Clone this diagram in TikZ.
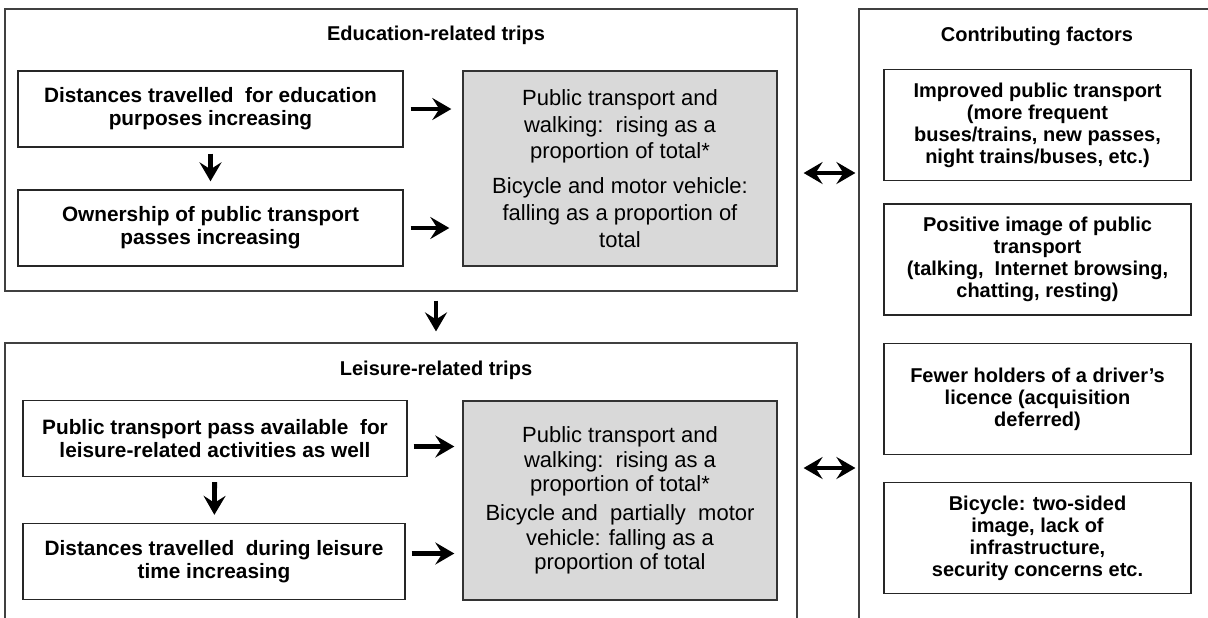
\documentclass[tikz,border=0pt]{standalone}
\usepackage{fontspec}
\setmainfont{Liberation Sans}
\usetikzlibrary{arrows.meta}

\tikzset{
  frame/.style={draw=black!75, line width=0.6pt, inner sep=0pt},
  heading/.style={font=\bfseries\fontsize{10}{12}\selectfont},
  causebox/.style={draw=black!85, line width=0.7pt, fill=white, align=center,
    font=\bfseries\fontsize{10.4}{11.6}\selectfont, minimum height=38pt},
  sharebox/.style={draw=black!80, line width=0.7pt, fill=black!15, align=center,
    minimum width=157pt},
  factorbox/.style={draw=black!85, line width=0.7pt, align=center,
    font=\bfseries\fontsize{10}{11}\selectfont, minimum width=153.5pt, minimum height=55.5pt},
  bigtip/.tip={Stealth[length=9.5pt,width=11pt,inset=3.5pt]},
  flow/.style={-bigtip, line width=2.4pt},
  link/.style={bigtip-bigtip, line width=2pt}
}

\begin{document}
\begin{tikzpicture}[x=0.5pt, y=-0.5pt]
  \useasboundingbox (0,0) rectangle (1208,617);
  \clip (0,0) rectangle (1208,617);

  % outer frames (lower and right ones run off the page)
  \node[frame, minimum width=396pt, minimum height=141pt] (edu) at (401,150) {};
  \node[frame, minimum width=396pt, minimum height=148.5pt] (leis) at (401,491.5) {};
  \node[frame, minimum width=185.5pt, minimum height=315.5pt] (factors) at (1044.5,324.5) {};

  % headings
  \node[heading] (eduT) at (436,35) {Education-related trips};
  \node[heading] (leisT) at (436,370) {Leisure-related trips};
  \node[heading] (factT) at (1037,36) {Contributing factors};

  % education-related trips
  \node[causebox, minimum width=192.5pt] (dist) at (210.5,109)
    {Distances travelled\ \ for education\\purposes increasing};
  \node[causebox, minimum width=192.5pt] (pass) at (210.5,228)
    {Ownership of public transport\\passes increasing};
  \node[sharebox, minimum height=97.5pt, font=\fontsize{11}{13.4}\selectfont] (eduShare) at (620,168.5)
    {Public transport and\\walking:\ \ rising as a\\proportion of total*\\[4pt]
     Bicycle and motor vehicle:\\falling as a proportion of\\total};

  % leisure-related trips
  \node[causebox, minimum width=192pt] (leisPass) at (215,438.5)
    {Public transport pass available\ \ for\\leisure-related activities as well};
  \node[causebox, minimum width=191pt] (leisDist) at (214,561.5)
    {Distances travelled\ \ during leisure\\time increasing};
  \node[sharebox, minimum height=99.5pt, font=\fontsize{11}{12.2}\selectfont] (leisShare) at (620,500.5)
    {Public transport and\\walking:\ \ rising as a\\proportion of total*\\[2.5pt]
     Bicycle and\ \ partially\ \ motor\\vehicle: falling as a\\proportion of total};

  % contributing factors
  \node[factorbox] (better) at (1037.5,125)
    {Improved public transport\\(more frequent\\buses/trains, new passes,\\night trains/buses, etc.)};
  \node[factorbox] (image) at (1037.5,259.5)
    {Positive image of public\\transport\\(talking,\ \ Internet browsing,\\chatting, resting)};
  \node[factorbox] (licence) at (1037.5,399)
    {Fewer holders of a driver’s\\licence (acquisition\\deferred)};
  \node[factorbox] (bike) at (1037.5,538)
    {Bicycle: two-sided\\image, lack of\\infrastructure,\\security concerns etc.};

  % arrows
  \draw[flow, shorten <=3pt, shorten >=4pt] (dist) -- (pass);
  \draw[flow, shorten <=3.5pt, shorten >=5.5pt] (dist.east) -- (dist.east -| eduShare.west);
  \draw[flow, shorten <=3.5pt, shorten >=6.5pt] (pass.east) -- (pass.east -| eduShare.west);
  \draw[flow, shorten <=4.5pt, shorten >=5.5pt] (eduT |- edu.south) -- (eduT |- leis.north);
  \draw[flow, shorten <=2.5pt, shorten >=4pt] (leisPass) -- (leisDist);
  \draw[flow, shorten <=3pt, shorten >=4pt] ([yshift=-4pt]leisPass.east) -- ([yshift=-4pt]leisPass.east -| leisShare.west);
  \draw[flow, shorten <=3pt, shorten >=4pt] ([yshift=4pt]leisDist.east) -- ([yshift=4pt]leisDist.east -| leisShare.west);

  \coordinate (upper) at (0,173);
  \coordinate (lower) at (0,468);
  \draw[link, shorten <=3pt, shorten >=1.5pt] (edu.east |- upper) -- (factors.west |- upper);
  \draw[link, shorten <=3pt, shorten >=1.5pt] (leis.east |- lower) -- (factors.west |- lower);
\end{tikzpicture}
\end{document}
